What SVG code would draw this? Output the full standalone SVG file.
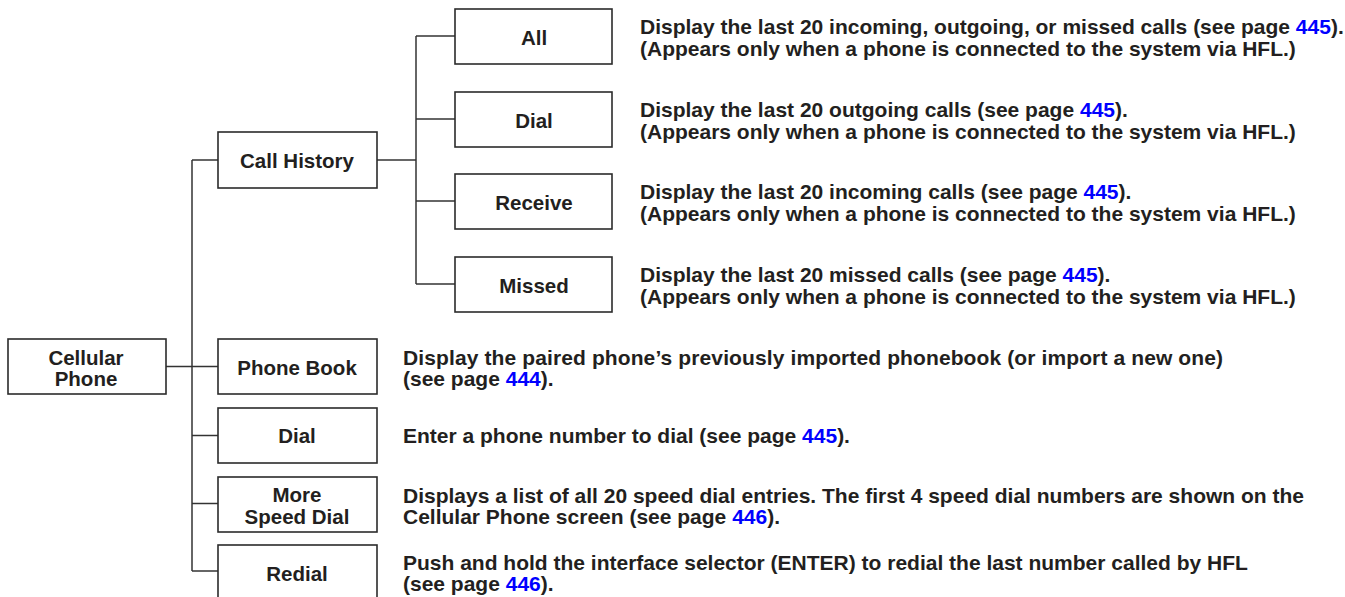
<svg xmlns="http://www.w3.org/2000/svg" width="1345" height="597" viewBox="0 0 1345 597">
  <style>
    .box { fill: #ffffff; stroke: #2b2b2b; stroke-width: 1.6; }
    .conn { fill: none; stroke: #333333; stroke-width: 1.5; }
    .lbl { font-family: "Liberation Sans", Arial, sans-serif; font-weight: bold; font-size: 20.5px; fill: #231f20; text-anchor: middle; }
    .desc { font-family: "Liberation Sans", Arial, sans-serif; font-weight: bold; font-size: 21px; fill: #231f20; }
    .pg { fill: #0000ff; }
  </style>
  <rect width="1345" height="597" fill="#ffffff"/>

  <g id="connectors">
    <path class="conn" d="M166 366.5 H218"/>
    <path class="conn" d="M192 160 V571"/>
    <path class="conn" d="M192 160 H218"/>
    <path class="conn" d="M192 435.5 H218"/>
    <path class="conn" d="M192 503.5 H218"/>
    <path class="conn" d="M192 571 H218"/>
    <path class="conn" d="M377 160 H416"/>
    <path class="conn" d="M416 36 V284"/>
    <path class="conn" d="M416 36 H455"/>
    <path class="conn" d="M416 119 H455"/>
    <path class="conn" d="M416 201 H455"/>
    <path class="conn" d="M416 284 H455"/>
  </g>

  <g id="node-cellular-phone">
    <rect class="box" x="8" y="339" width="158" height="55"/>
    <text class="lbl" x="86" y="365">Cellular</text>
    <text class="lbl" x="86" y="386">Phone</text>
  </g>

  <g id="node-call-history">
    <rect class="box" x="218" y="132" width="159" height="56"/>
    <text class="lbl" x="297" y="168">Call History</text>
  </g>

  <g id="node-all">
    <rect class="box" x="455" y="9" width="157" height="55"/>
    <text class="lbl" x="534" y="45">All</text>
    <text class="desc" x="640" y="34">Display the last 20 incoming, outgoing, or missed calls (see page <tspan class="pg">445</tspan>).</text>
    <text class="desc" x="640" y="55.5">(Appears only when a phone is connected to the system via HFL.)</text>
  </g>

  <g id="node-dial-history">
    <rect class="box" x="455" y="92" width="157" height="55"/>
    <text class="lbl" x="534" y="128">Dial</text>
    <text class="desc" x="640" y="117">Display the last 20 outgoing calls (see page <tspan class="pg">445</tspan>).</text>
    <text class="desc" x="640" y="138.5">(Appears only when a phone is connected to the system via HFL.)</text>
  </g>

  <g id="node-receive">
    <rect class="box" x="455" y="174" width="157" height="55"/>
    <text class="lbl" x="534" y="210">Receive</text>
    <text class="desc" x="640" y="199">Display the last 20 incoming calls (see page <tspan class="pg">445</tspan>).</text>
    <text class="desc" x="640" y="220.5">(Appears only when a phone is connected to the system via HFL.)</text>
  </g>

  <g id="node-missed">
    <rect class="box" x="455" y="257" width="157" height="55"/>
    <text class="lbl" x="534" y="293">Missed</text>
    <text class="desc" x="640" y="282">Display the last 20 missed calls (see page <tspan class="pg">445</tspan>).</text>
    <text class="desc" x="640" y="303.5">(Appears only when a phone is connected to the system via HFL.)</text>
  </g>

  <g id="node-phone-book">
    <rect class="box" x="218" y="339" width="159" height="55"/>
    <text class="lbl" x="297" y="375">Phone Book</text>
    <text class="desc" x="403" y="365" textLength="820" lengthAdjust="spacing">Display the paired phone’s previously imported phonebook (or import a new one)</text>
    <text class="desc" x="403" y="385.5">(see page <tspan class="pg">444</tspan>).</text>
  </g>

  <g id="node-dial">
    <rect class="box" x="218" y="408" width="159" height="55"/>
    <text class="lbl" x="297" y="443">Dial</text>
    <text class="desc" x="403" y="443">Enter a phone number to dial (see page <tspan class="pg">445</tspan>).</text>
  </g>

  <g id="node-more-speed-dial">
    <rect class="box" x="218" y="477" width="159" height="55"/>
    <text class="lbl" x="297" y="502">More</text>
    <text class="lbl" x="297" y="524">Speed Dial</text>
    <text class="desc" x="403" y="503">Displays a list of all 20 speed dial entries. The first 4 speed dial numbers are shown on the</text>
    <text class="desc" x="403" y="523.5">Cellular Phone screen (see page <tspan class="pg">446</tspan>).</text>
  </g>

  <g id="node-redial">
    <rect class="box" x="218" y="545" width="159" height="60"/>
    <text class="lbl" x="297" y="581">Redial</text>
    <text class="desc" x="403" y="570">Push and hold the interface selector (ENTER) to redial the last number called by HFL</text>
    <text class="desc" x="403" y="590.5">(see page <tspan class="pg">446</tspan>).</text>
  </g>
</svg>
